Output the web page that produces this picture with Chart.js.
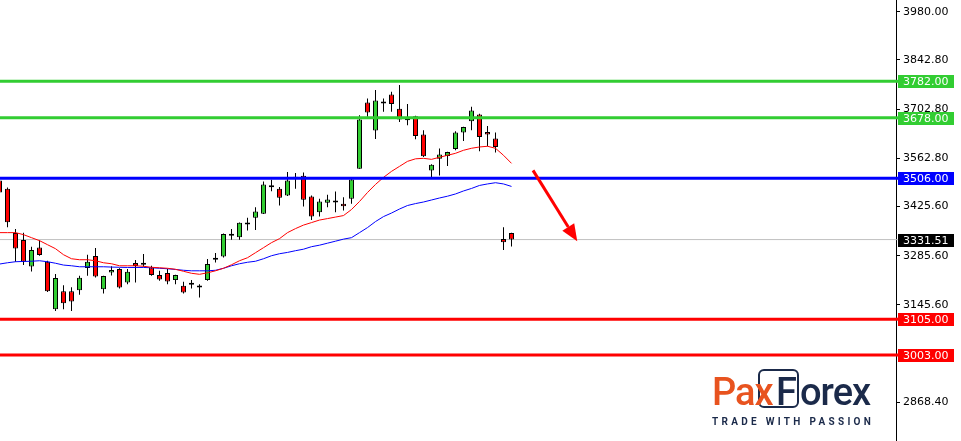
<!DOCTYPE html>
<html>
<head>
<meta charset="utf-8">
<script src="https://cdn.jsdelivr.net/npm/chart.js@4.4.0/dist/chart.umd.min.js"></script>
<style>
html,body{margin:0;padding:0;background:#fff;overflow:hidden}
#wrap{position:relative;width:961px;height:441px}
canvas{display:block}
.brand{position:absolute;top:373px;height:39px;line-height:39px;font-family:Roboto,sans-serif;font-weight:500;font-size:38px;white-space:nowrap}
.pax{left:712px;color:#E8531F;letter-spacing:-1px}
.orex{left:800px;color:#1B2A4A;letter-spacing:-1px}
.fch{left:776px;color:#1B2A4A}
.fbox{position:absolute;left:758px;top:369px;width:37px;height:35px;border:2px solid #1B2A4A;border-radius:6px}
.tag{position:absolute;left:712px;top:417px;font-family:Roboto,sans-serif;font-weight:700;font-size:10px;line-height:10px;letter-spacing:3.3px;color:#1B2A4A;white-space:nowrap}
</style>
</head>
<body>
<div id="wrap">
<canvas id="c" width="961" height="441"></canvas>
<div class="fbox"></div>
<div class="brand pax">Pax</div>
<div class="brand fch">F</div>
<div class="brand orex">orex</div>
<div class="tag">TRADE WITH PASSION</div>
</div>
<script>
// ---- data ----
const candleIds = [1,2,3,4,5,6,7,8,9,10,11,12,13,14,15,16,17,18,19,20,21,22,23,24,25,26,27,28,29,30,31,32,33,34,35,36,37,38,39,40,41,42,43,44,45,46,47,48,49,50,51,52,53,54,55,56,57,58,59,60,61,62,63,64,65];
const opens = [3499.9,3476.2,3350.5,3330.5,3255.0,3309.3,3268.5,3133.3,3184.7,3184.7,3187.6,3250.5,3284.8,3190.4,3237.9,3247.6,3209.3,3264.8,3259.9,3252.2,3230.5,3236.2,3216.2,3199.9,3202.7,3195.0,3216.2,3274.2,3283.6,3342.8,3337.9,3374.2,3393.4,3404.8,3480.8,3476.2,3457.1,3504.8,3513.4,3454.2,3409.3,3436.2,3437.1,3433.4,3447.6,3533.4,3722.0,3642.0,3719.1,3744.8,3703.7,3671.4,3682.8,3630.5,3528.5,3561.9,3569.4,3589.4,3636.2,3668.5,3687.7,3638.0,3619.1,3333.3,3350.5];
const highs = [3505.6,3479.9,3361.9,3351.3,3311.3,3329.3,3271.3,3233.3,3201.9,3196.2,3228.5,3288.5,3307.6,3228.5,3255.6,3249.9,3247.6,3273.3,3290.5,3257.0,3242.7,3247.6,3231.3,3211.3,3216.2,3204.7,3276.2,3293.3,3348.5,3361.9,3380.0,3393.4,3423.6,3497.1,3501.9,3481.4,3523.7,3520.8,3522.8,3457.1,3447.6,3459.1,3468.5,3452.2,3509.4,3685.7,3733.4,3757.1,3733.4,3752.3,3771.4,3717.1,3684.2,3642.8,3545.7,3590.5,3581.4,3640.0,3652.8,3709.4,3689.9,3655.1,3636.2,3366.5,3351.3];
const lows = [3459.9,3366.5,3268.5,3259.0,3240.7,3285.6,3182.7,3128.4,3133.3,3128.4,3174.2,3228.5,3223.6,3177.9,3229.3,3192.2,3204.7,3209.3,3254.2,3228.5,3214.2,3204.7,3204.7,3177.9,3192.2,3166.4,3214.2,3266.5,3280.8,3331.3,3331.3,3357.1,3359.1,3404.2,3469.4,3428.5,3455.6,3476.2,3425.6,3387.6,3397.1,3423.6,3409.3,3414.2,3433.4,3532.8,3680.8,3618.0,3695.1,3695.1,3666.5,3657.1,3617.1,3566.5,3509.4,3514.2,3540.8,3585.7,3612.2,3642.8,3582.8,3597.1,3579.1,3301.9,3312.2];
const closes = [3465.6,3380.8,3306.5,3268.5,3301.9,3287.6,3184.7,3221.9,3150.4,3155.0,3222.7,3268.5,3226.5,3227.6,3244.8,3195.0,3239.9,3256.2,3259.9,3230.5,3217.9,3212.2,3230.5,3180.7,3202.7,3195.0,3261.9,3274.2,3347.6,3342.8,3379.1,3374.2,3411.3,3488.5,3480.8,3450.5,3499.9,3504.8,3444.8,3397.1,3439.9,3445.6,3437.1,3426.5,3502.8,3673.4,3693.4,3727.7,3719.1,3717.1,3673.4,3671.4,3626.5,3568.5,3544.8,3573.4,3580.8,3636.2,3652.2,3699.1,3623.7,3630.5,3595.1,3323.6,3331.51];
const maFast = [3351.3,3351.3,3351.3,3345.6,3337.0,3328.5,3317.0,3305.6,3288.5,3277.0,3274.2,3274.2,3271.3,3265.6,3262.8,3257.0,3257.0,3257.0,3255.6,3252.7,3251.3,3249.9,3247.0,3241.3,3235.6,3232.7,3237.0,3242.7,3249.9,3259.9,3271.3,3279.9,3294.2,3308.5,3322.8,3334.2,3351.3,3362.8,3372.8,3379.9,3387.1,3391.3,3395.6,3399.9,3417.1,3439.9,3465.6,3488.5,3508.5,3525.7,3539.9,3554.2,3561.4,3562.8,3559.9,3565.7,3571.4,3577.1,3585.7,3591.4,3595.1,3597.1,3591.4,3571.4,3548.5];
const maSlow = [3261.9,3265.6,3268.5,3269.3,3269.9,3271.3,3268.5,3264.2,3259.0,3257.0,3254.2,3254.2,3254.2,3254.2,3253.3,3252.7,3252.2,3252.2,3252.2,3251.3,3249.9,3248.5,3246.5,3244.2,3242.7,3242.7,3242.7,3244.2,3249.9,3257.0,3262.8,3267.0,3269.9,3277.0,3285.6,3291.3,3295.0,3299.9,3304.2,3311.3,3315.6,3321.3,3327.0,3332.8,3337.0,3351.3,3365.7,3382.8,3397.0,3407.1,3418.5,3428.5,3434.0,3438.5,3444.2,3449.9,3455.0,3461.4,3469.9,3477.1,3485.6,3489.9,3493.4,3489.9,3482.8];
const resistanceLevels = [3782.00, 3678.00];
const pivotLevels = [3506.00];
const supportLevels = [3105.00, 3003.00];
const lastPrice = 3331.51;
const tickValues = [3980.00, 3842.80, 3702.80, 3562.80, 3425.60, 3285.60, 3145.60, 2868.40];
const arrowFrom = [67.69, 3528.5];
const arrowTo = [73.22, 3326.5];

// ---- styles ----
const GREEN = '#32CD32', RED = '#FF0000', BLUE = '#0000FF';
const X_MIN = 1.0625, X_MAX = 113.0625, Y_MIN = 2758.3, Y_MAX = 4013.4;

const wickData = candleIds.map((id, i) => ({x: id, y: [lows[i], highs[i]]}));
const bodyData = candleIds.map((id, i) => ({x: id, y: [opens[i], closes[i]]}));
const bodyColors = candleIds.map((id, i) => closes[i] > opens[i] ? GREEN : (closes[i] < opens[i] ? RED : '#000'));

function hLine(v, color, width, order) {
  return {type: 'line', data: [{x: X_MIN, y: v}, {x: X_MAX, y: v}], borderColor: color, borderWidth: width,
    pointRadius: 0, order: order, tension: 0};
}

const datasets = [
  hLine(lastPrice, '#C0C0C0', 1, 20),
  {type: 'bar', data: wickData, backgroundColor: '#000', borderWidth: 0, barThickness: 1, grouped: false,
    inflateAmount: 0, order: 15},
  {type: 'bar', data: bodyData, backgroundColor: bodyColors, borderColor: '#000', borderWidth: 1, borderSkipped: false,
    barThickness: 5, grouped: false, minBarLength: 2, inflateAmount: 0, order: 14},
  {type: 'line', data: candleIds.map((id, i) => ({x: id, y: maSlow[i]})), borderColor: BLUE, borderWidth: 1, pointRadius: 0, order: 12},
  {type: 'line', data: candleIds.map((id, i) => ({x: id, y: maFast[i]})), borderColor: RED, borderWidth: 1, pointRadius: 0, order: 11},
  ...resistanceLevels.map(v => hLine(v, GREEN, 3, 5)),
  ...pivotLevels.map(v => hLine(v, BLUE, 3, 5)),
  ...supportLevels.map(v => hLine(v, RED, 3, 5))
];

const tagPlugin = {
  id: 'tags',
  afterDatasetsDraw(chart) {
    const ctx = chart.ctx, xs = chart.scales.x, ys = chart.scales.y;
    const x1 = xs.getPixelForValue(arrowFrom[0]), y1 = ys.getPixelForValue(arrowFrom[1]);
    const x2 = xs.getPixelForValue(arrowTo[0]), y2 = ys.getPixelForValue(arrowTo[1]);
    const ang = Math.atan2(y2 - y1, x2 - x1);
    const headLen = 17, headW = 7;
    const bx = x2 - headLen * Math.cos(ang), by = y2 - headLen * Math.sin(ang);
    ctx.save();
    ctx.strokeStyle = RED; ctx.fillStyle = RED; ctx.lineWidth = 3;
    ctx.beginPath(); ctx.moveTo(x1, y1); ctx.lineTo(bx, by); ctx.stroke();
    ctx.beginPath();
    ctx.moveTo(x2, y2);
    ctx.lineTo(bx + headW * Math.sin(ang), by - headW * Math.cos(ang));
    ctx.lineTo(bx - headW * Math.sin(ang), by + headW * Math.cos(ang));
    ctx.closePath(); ctx.fill();
    ctx.restore();
  },
  afterDraw(chart) {
    const ctx = chart.ctx, ys = chart.scales.y, right = chart.chartArea.right;
    const tags = [];
    resistanceLevels.forEach(v => tags.push([v, GREEN, 3]));
    pivotLevels.forEach(v => tags.push([v, BLUE, 3]));
    tags.push([lastPrice, '#000', 1]);
    supportLevels.forEach(v => tags.push([v, RED, 3]));
    ctx.save();
    ctx.font = '11px "DejaVu Sans"';
    ctx.textBaseline = 'middle';
    tags.forEach(([v, color, lw]) => {
      const y = ys.getPixelForValue(v);
      ctx.fillStyle = color === '#000' ? '#C0C0C0' : color;
      ctx.fillRect(right, y - lw / 2, 3, lw);
      ctx.fillStyle = color;
      const top = Math.round(y) - 6;
      ctx.fillRect(right + 2, top, 56, 13);
      ctx.fillStyle = '#fff';
      ctx.fillText(v.toFixed(2), right + 7, top + 7);
    });
    ctx.restore();
  }
};

new Chart(document.getElementById('c'), {
  type: 'bar',
  data: {datasets},
  options: {
    responsive: false, animation: false, devicePixelRatio: 1,
    layout: {padding: 0},
    plugins: {legend: {display: false}, tooltip: {enabled: false}},
    scales: {
      x: {type: 'linear', min: X_MIN, max: X_MAX, display: false, offset: false, grid: {display: false}},
      y: {
        type: 'linear', position: 'right', min: Y_MIN, max: Y_MAX,
        afterBuildTicks: s => { s.ticks = tickValues.map(v => ({value: v})); },
        afterFit: s => { s.width = 65; s.paddingTop = 0; s.paddingBottom = 0; },
        ticks: {autoSkip: false, padding: 3, color: '#000', font: {family: 'DejaVu Sans', size: 11},
          callback: v => Number(v).toFixed(2)},
        grid: {drawOnChartArea: false, drawTicks: true, tickLength: 4, color: '#000'},
        border: {display: true, color: '#000', width: 1}
      }
    }
  },
  plugins: [tagPlugin]
});
</script>
</body>
</html>
